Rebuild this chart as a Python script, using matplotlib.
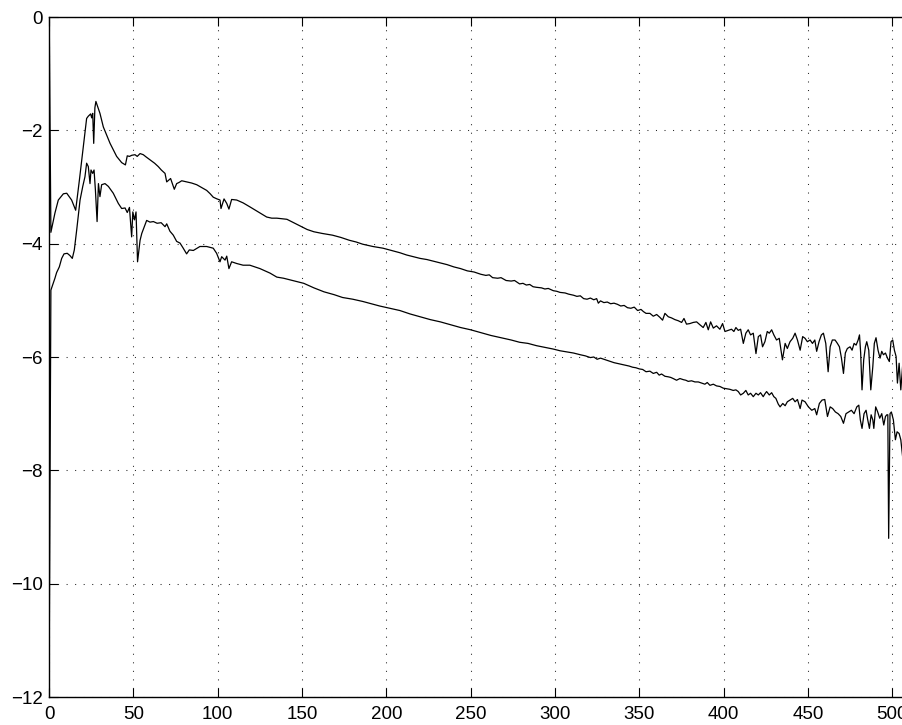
import matplotlib
matplotlib.use("Agg")
import matplotlib.pyplot as plt

# upper spectrum (log magnitude)
xa = [0, 1, 3.4, 5.4, 8.4, 10.4, 13.3, 15.7, 17.9, 20.2, 22.2, 23.2, 24.6, 25.2, 25.8, 26.4, 27.1, 27.7,
      30.1, 32.1, 36.1, 40.0, 43.0, 45.2, 46.3, 47.6, 49.0, 50.9, 52.2, 53.9, 55.8, 57.5, 59.8, 62.5,
      64.7, 66.5, 68.7, 69.7, 72.0, 74.2, 75.6, 77.0, 78.6, 81.5, 84.5, 87.5, 90.5, 93.4, 95.5, 97.3,
      99.5, 101.3, 101.9, 103.7, 105.3, 106.6, 108.2, 111.2,
      115, 119, 124, 129, 132, 135, 138, 141, 145, 149, 153, 157, 162, 168, 173, 178, 182, 186, 192,
      198, 203, 208, 212, 216, 220, 224, 228, 232, 236, 240, 244, 248, 252, 256, 259, 261, 263, 266,
      268, 271, 274, 276, 279, 281, 283, 285, 287, 289, 292, 294, 296, 299, 301, 303, 306, 308, 311,
      313, 315, 317, 319, 321, 323, 324.7, 325.7, 327, 329, 331, 333, 335, 337, 339, 341, 343, 345,
      347, 349, 351, 352.5, 354,
      356.3, 358.3, 360.3, 362.2, 363.8, 365.2, 367.2, 369.1, 371.1, 373.1, 375.1, 376.5, 378.0,
      380.0, 382.0, 384.0, 385.9, 387.9, 389.5, 390.9, 392.3, 393.9, 395.8, 397.8, 399.4, 400.8,
      402.8, 404.7, 406.1, 407.3, 408.7, 410.1, 411.7, 413.2, 414.6, 416.0, 417.6, 419.2, 420.6,
      421.9, 423.1, 424.5, 425.9, 427.1, 428.5, 429.8, 431.4, 433.0, 434.9, 436.5, 437.8, 439.4,
      441.0, 442.4, 443.8, 445.4, 446.9, 448.3, 449.7, 451.3, 452.7, 454.1, 455.2, 456.6, 458.0,
      459.2, 460.6, 462.0, 463.2, 464.5, 466.1, 467.5, 468.7, 469.9, 471.1, 472.2, 473.4, 475.0,
      476.2, 477.4, 478.6, 479.8, 480.6, 481.3, 482.1, 483.1, 484.1, 484.9, 486.1, 487.3, 488.5,
      489.4, 490.4, 491.6, 492.8, 493.8, 494.8, 496.0, 497.2, 498.3, 499.3, 500.3, 501.3, 502.3,
      503.1, 504.1, 505.1, 506.3, 507.5, 509.0, 510.5, 512]
ya = [0.0, -3.80, -3.46, -3.23, -3.12, -3.11, -3.23, -3.41, -2.88, -2.29, -1.79, -1.75, -1.71, -1.78,
      -1.70, -2.23, -1.60, -1.49,
      -1.70, -1.94, -2.23, -2.46, -2.57, -2.61, -2.45, -2.46, -2.44, -2.43, -2.46, -2.41, -2.43, -2.47,
      -2.52, -2.58, -2.64, -2.70, -2.76, -2.91, -2.85, -3.04, -2.94, -2.92, -2.89, -2.91, -2.93, -2.96,
      -3.01, -3.06, -3.12, -3.18, -3.21, -3.23, -3.38, -3.21, -3.29, -3.39, -3.22, -3.23,
      -3.28, -3.35, -3.44, -3.53, -3.55, -3.55, -3.56, -3.57, -3.63, -3.69, -3.75, -3.79, -3.82,
      -3.85, -3.89, -3.94, -3.97, -4.01, -4.05, -4.08, -4.12, -4.16, -4.20, -4.23, -4.26, -4.28,
      -4.31, -4.34, -4.37, -4.41, -4.44, -4.48, -4.50, -4.54, -4.56, -4.55, -4.60, -4.61,
      -4.60, -4.65, -4.66, -4.65, -4.71, -4.70, -4.73, -4.72, -4.76, -4.77, -4.78, -4.80, -4.79,
      -4.83, -4.84, -4.86, -4.87, -4.89, -4.91, -4.93, -4.92, -4.97, -4.98, -4.96, -4.99, -4.97,
      -5.05, -5.01, -5.04, -5.03, -5.06, -5.05, -5.07, -5.10, -5.09, -5.13, -5.14, -5.12, -5.18,
      -5.16, -5.20, -5.23,
      -5.23, -5.28, -5.25, -5.30, -5.35, -5.23, -5.29, -5.31, -5.34, -5.36, -5.39, -5.32, -5.42,
      -5.41, -5.39, -5.38, -5.43, -5.48, -5.39, -5.52, -5.38, -5.49, -5.45, -5.51, -5.41, -5.55,
      -5.53, -5.51, -5.55, -5.48, -5.53, -5.51, -5.76, -5.58, -5.52, -5.61, -5.58, -5.94, -5.64,
      -5.61, -5.82, -5.73, -5.55, -5.58, -5.52, -5.61, -5.70, -5.67, -6.05, -5.76, -5.85, -5.73,
      -5.67, -5.58, -5.70, -5.88, -5.64, -5.67, -5.73, -5.70, -5.76, -5.70, -5.90, -5.73, -5.61,
      -5.58, -5.76, -6.26, -5.82, -5.70, -5.70, -5.76, -5.82, -6.02, -6.29, -5.93, -5.85, -5.82,
      -5.88, -5.76, -5.79, -5.70, -5.61, -5.93, -6.58, -6.05, -5.82, -5.73, -5.88, -6.58, -6.17,
      -5.76, -5.66, -5.88, -6.02, -5.90, -5.96, -5.93, -6.02, -6.08, -5.73, -5.70, -5.88, -5.99,
      -6.46, -6.11, -6.58, -6.11, -6.30, -6.20, -6.40, -6.25]

# lower spectrum (log magnitude)
xb = [0, 1, 3.4, 4.4, 6.0, 7.4, 8.8, 10.7, 12.3, 13.7, 14.9, 16.3, 18.3, 19.9, 21.2, 22.2, 23.2, 24.2,
      24.8, 25.8, 26.6, 27.4, 28.4, 29.2, 30.1, 31.1, 33.1, 35.1, 38.0, 41.0, 43.0, 45.0, 46.3, 46.9,
      47.6, 48.9, 49.6, 50.6, 51.5, 52.4, 53.9, 54.9, 56.8, 57.8, 59.8, 61.8, 64.0, 66.4, 68.7, 69.7,
      71.6, 73.6, 75.6, 77.6, 79.5, 81.5, 83.1, 85.5, 89.4, 93.4, 97.3, 99.3, 101.3, 102.3, 104.3,
      105.3, 106.6, 108.2, 111.2,
      115, 119, 125, 131, 135, 139, 143, 147, 151, 157, 163, 169, 174, 180, 186, 191, 196, 202, 208,
      214, 220, 226, 232, 238, 244, 250, 256, 262, 268, 274, 279, 284, 289, 294, 299, 303, 307, 311,
      315, 318, 321, 323, 325, 327, 329, 332, 335, 338, 341, 344, 346, 348, 350, 352, 354,
      356.3, 358.3, 360.3, 361.8, 363.2, 365.2, 367.2, 368.6, 370.1, 372.1, 374.1, 376.1, 377.6,
      379.0, 381.0, 383.0, 385.0, 386.9, 388.9, 390.3, 391.9, 393.9, 395.8, 397.8, 399.8, 401.8,
      403.7, 405.7, 407.3, 408.7, 410.1, 411.7, 413.2, 414.6, 416.0, 417.6, 419.2, 420.6, 421.9,
      423.5, 424.5, 425.5, 427.1, 428.5, 429.8, 431.0, 432.4, 433.5, 435.1, 436.5, 437.8, 439.4,
      441.0, 442.4, 443.8, 445.4, 446.5, 448.3, 450.3, 452.3, 454.1, 455.2, 456.8, 458.4, 460.0,
      461.6, 463.2, 464.7, 466.3, 467.9, 469.5, 471.1, 472.6, 474.2, 475.8, 477.4, 479.0, 480.2,
      481.1, 482.1, 483.3, 484.5, 485.5, 486.5, 487.5, 488.5, 489.1, 490.2, 491.4, 492.6, 493.8,
      495.0, 496.0, 496.8, 497.4, 497.9, 498.7, 499.5, 500.7, 501.9, 502.9, 504.1, 505.1, 506.3,
      507.5, 509.0, 510.5, 512]
yb = [-11.40, -4.82, -4.61, -4.51, -4.41, -4.26, -4.18, -4.17, -4.21, -4.26, -4.11, -3.76, -3.23,
      -2.99, -2.82, -2.58, -2.64, -2.94, -2.70, -2.76, -2.70, -3.05, -3.61, -2.94, -3.17, -2.96,
      -2.94, -2.99, -3.11, -3.29, -3.38, -3.37, -3.45, -3.41, -3.36, -3.88, -3.44, -3.58, -3.44,
      -4.32, -3.94, -3.82, -3.67, -3.59, -3.62, -3.61, -3.64, -3.63, -3.70, -3.65, -3.78, -3.85,
      -3.96, -3.99, -4.08, -4.18, -4.11, -4.12, -4.05, -4.05, -4.08, -4.17, -4.32, -4.23, -4.29,
      -4.22, -4.44, -4.32, -4.35,
      -4.38, -4.38, -4.44, -4.52, -4.59, -4.61, -4.64, -4.67, -4.70, -4.78, -4.85, -4.90, -4.95,
      -4.98, -5.02, -5.06, -5.10, -5.14, -5.18, -5.24, -5.29, -5.34, -5.38, -5.43, -5.48, -5.52,
      -5.57, -5.62, -5.66, -5.70, -5.74, -5.76, -5.80, -5.83, -5.86, -5.89, -5.91, -5.93, -5.96,
      -5.98, -6.01, -6.00, -6.04, -6.02, -6.04, -6.07, -6.10, -6.12, -6.14, -6.16, -6.18, -6.19,
      -6.21, -6.22, -6.26,
      -6.25, -6.29, -6.27, -6.32, -6.30, -6.34, -6.35, -6.36, -6.38, -6.41, -6.38, -6.40, -6.41,
      -6.43, -6.42, -6.44, -6.44, -6.46, -6.48, -6.45, -6.50, -6.48, -6.51, -6.52, -6.55, -6.56,
      -6.57, -6.59, -6.58, -6.61, -6.67, -6.64, -6.59, -6.67, -6.64, -6.70, -6.64, -6.67, -6.63,
      -6.70, -6.65, -6.61, -6.67, -6.63, -6.70, -6.73, -6.83, -6.88, -6.82, -6.86, -6.79, -6.76,
      -6.73, -6.79, -6.75, -6.91, -6.76, -6.79, -6.88, -6.94, -6.91, -7.02, -6.82, -6.76, -6.75,
      -7.05, -6.88, -6.91, -6.97, -7.00, -7.05, -7.17, -7.00, -6.97, -6.94, -7.00, -6.88, -6.85,
      -7.11, -7.26, -7.00, -6.94, -7.11, -7.26, -7.02, -7.11, -7.26, -6.88, -6.97, -7.08, -7.00,
      -7.20, -7.05, -7.02, -7.02, -9.20, -7.00, -6.97, -7.11, -7.46, -7.32, -7.35, -7.46, -7.79,
      -7.60, -7.70, -7.55, -7.65]

xticks = list(range(0, 501, 50))
yticks = list(range(-12, 1, 2))

plt.rcParams['font.family'] = ['Liberation Sans', 'DejaVu Sans']
plt.rcParams['axes.unicode_minus'] = True

fig = plt.figure(figsize=(9.03, 7.25), dpi=100)
W, H = 903, 725
x_left, x_right = 49.2, 49.2 + 512 * 1.686
y_top, y_bot = 17, 697
ax = fig.add_axes([x_left / W, (H - y_bot) / H, (x_right - x_left) / W, (y_bot - y_top) / H])

ax.plot(xa, ya, color='k', lw=0.9)
ax.plot(xb, yb, color='k', lw=0.9)

ax.set_xlim(0, 512)
ax.set_ylim(-12, 0)
ax.set_xticks(xticks)
ax.set_yticks(yticks)
ax.tick_params(direction='in', length=6.5, width=0.8, top=True, right=True,
               labelsize=13.5, colors='k')
ax.tick_params(axis='x', pad=6.5)
ax.tick_params(axis='y', pad=4.5)
ax.grid(True, color='0.15', lw=0.75, linestyle=(0, (1.0, 7.2)))
for s in ax.spines.values():
    s.set_linewidth(1.0)

fig.savefig('out.png', dpi=100)
